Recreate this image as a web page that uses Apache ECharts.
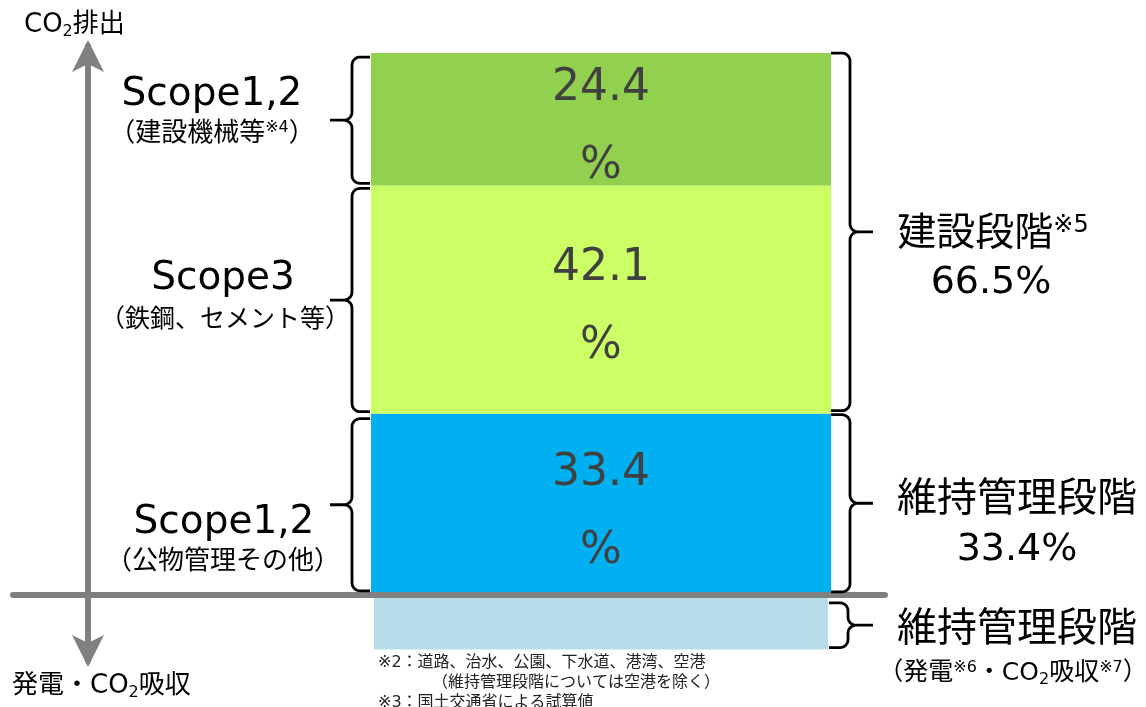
<!DOCTYPE html>
<html>
<head>
<meta charset="utf-8">
<script src="https://cdn.jsdelivr.net/npm/echarts@6/dist/echarts.min.js"></script>
<style>
html, body { margin: 0; padding: 0; background: #fff; }
#main { width: 1146px; height: 707px; }
</style>
</head>
<body>
<div id="main"></div>
<script>
// data (%, インフラ分野のCO2排出構成)
const categories = ['インフラ'];
const maintenanceScope12 = [33.4];   // Scope1,2（公物管理その他）
const constructionScope3 = [42.1];   // Scope3（鉄鋼、セメント等）
const constructionScope12 = [24.4];  // Scope1,2（建設機械等）
const maintenanceOffset = [-10.1];   // 維持管理段階（発電・CO2吸収）

const yMin = -12.2;
const yMax = 101.2;
const FONT = "'DejaVu Sans', 'Noto Sans CJK JP', sans-serif";

const chart = echarts.init(document.getElementById('main'));

const barLabel = {
    show: true,
    position: 'inside',
    formatter: '{c}\n%',
    fontSize: 44,
    lineHeight: 78,
    color: '#404040',
    fontFamily: FONT,
    offset: [0, 8]
};

chart.setOption({
    animation: false,
    grid: [
        { left: 371, right: 315, top: 46, bottom: 46 },
        { left: 13, right: 261, top: 46, bottom: 46 }
    ],
    xAxis: [
        { type: 'category', data: categories, gridIndex: 0, show: false },
        { type: 'category', data: categories, gridIndex: 0, show: false },
        {
            type: 'category', data: categories, gridIndex: 1, z: 10,
            axisLine: { onZero: true, lineStyle: { color: '#808080', width: 6 } },
            axisTick: { show: false },
            axisLabel: { show: false }
        }
    ],
    yAxis: [
        {
            type: 'value', gridIndex: 0, min: yMin, max: yMax,
            position: 'left', offset: 283,
            axisLine: {
                show: true,
                symbol: ['arrow', 'arrow'],
                symbolSize: [24, 32],
                symbolOffset: [-6, 6],
                lineStyle: { color: '#808080', width: 6 }
            },
            axisTick: { show: false },
            axisLabel: { show: false },
            splitLine: { show: false }
        },
        { type: 'value', gridIndex: 1, min: yMin, max: yMax, show: false }
    ],
    series: [
        {
            name: 'Scope1,2（公物管理その他）', type: 'bar', stack: 'emit',
            xAxisIndex: 0, yAxisIndex: 0, barWidth: 460,
            data: maintenanceScope12,
            itemStyle: { color: '#00B0F0' },
            label: barLabel
        },
        {
            name: 'Scope3（鉄鋼、セメント等）', type: 'bar', stack: 'emit',
            xAxisIndex: 0, yAxisIndex: 0, barWidth: 460,
            data: constructionScope3,
            itemStyle: { color: '#CCFF66' },
            label: barLabel
        },
        {
            name: 'Scope1,2（建設機械等）', type: 'bar', stack: 'emit',
            xAxisIndex: 0, yAxisIndex: 0, barWidth: 460,
            data: constructionScope12,
            itemStyle: { color: '#92D050' },
            label: barLabel
        },
        {
            name: '発電・CO2吸収', type: 'bar',
            xAxisIndex: 1, yAxisIndex: 0, barWidth: 454,
            data: maintenanceOffset,
            itemStyle: { color: '#B7DEE8' }
        }
    ]
});

// curly braces next to the bar segments
function brace(stemX, y1, y2, dir, hook, tip, r) {
    const ym = (y1 + y2) / 2;
    const pts = [];
    const P = (u, y) => pts.push([stemX + dir * u, y]);
    const N = 8;
    P(-hook, y1);
    for (let i = 0; i <= N; i++) { const a = i / N * Math.PI / 2; P(-r + r * Math.sin(a), y1 + r - r * Math.cos(a)); }
    for (let i = 0; i <= N; i++) { const a = i / N * Math.PI / 2; P(r - r * Math.cos(a), ym - r + r * Math.sin(a)); }
    P(tip, ym);
    for (let i = 0; i <= N; i++) { const a = i / N * Math.PI / 2; P(r - r * Math.sin(a), ym + r - r * Math.cos(a)); }
    for (let i = 0; i <= N; i++) { const a = i / N * Math.PI / 2; P(-r + r * Math.cos(a), y2 - r + r * Math.sin(a)); }
    P(-hook, y2);
    return {
        type: 'polyline', z: 20,
        shape: { points: pts },
        style: { stroke: '#000', lineWidth: 2.8, fill: 'none' }
    };
}

const rich = (size) => ({
    m: { fontSize: size, lineHeight: size + 6, fontFamily: FONT, fill: '#000' },
    s: { fontSize: Math.round(size * 0.62), lineHeight: Math.round(size * 0.7), padding: [0, 0, Math.round(size * 0.45), 0], fontFamily: FONT, fill: '#000' },
    b: { fontSize: Math.round(size * 0.62), lineHeight: Math.round(size * 0.7), padding: [Math.round(size * 0.5), 0, 0, 0], fontFamily: FONT, fill: '#000' }
});

function txt(x, y, text, size, align, color) {
    return {
        type: 'text', x: x, y: y, z: 20,
        style: {
            text: text, fontSize: size, fontFamily: FONT, fill: color || '#000',
            align: align || 'center', verticalAlign: 'middle', rich: rich(size)
        }
    };
}

const yPx = v => chart.convertToPixel({ yAxisIndex: 0 }, v);
const c1 = maintenanceScope12[0];
const c2 = c1 + constructionScope3[0];
const c3 = c2 + constructionScope12[0];
const constructionShare = (constructionScope3[0] + constructionScope12[0]).toFixed(1);
const maintenanceShare = maintenanceScope12[0].toFixed(1);

chart.setOption({
    graphic: [
        brace(352, yPx(c3) + 4, yPx(c2) - 2, -1, 18, 22, 8),
        brace(352, yPx(c2) + 3, yPx(c1) - 2, -1, 18, 22, 8),
        brace(352, yPx(c1) + 5, yPx(0) - 4, -1, 18, 22, 8),
        brace(850, yPx(c3), yPx(c1) - 3, 1, 19, 23, 8),
        brace(850, yPx(c1) + 1, yPx(0) - 3, 1, 19, 23, 8),
        brace(848, yPx(0) + 8, yPx(maintenanceOffset[0]) - 2, 1, 19, 25, 8),

        txt(24, 25, '{m|CO}{b|2}{m|排出}', 26, 'left'),
        txt(12, 686, '{m|発電・CO}{b|2}{m|吸収}', 26, 'left'),

        txt(212, 95, 'Scope1,2', 39),
        txt(212, 134, '{m|（建設機械等}{s|※4}{m|）}', 26),
        txt(223, 279, 'Scope3', 39),
        txt(225, 320, '（鉄鋼、セメント等）', 25),
        txt(224, 523, 'Scope1,2', 39),
        txt(223, 562, '（公物管理その他）', 26),

        txt(993, 235, '{m|建設段階}{s|※5}', 39),
        txt(991, 283, constructionShare + '%', 38),
        txt(1017, 501, '維持管理段階', 40),
        txt(1017, 550, maintenanceShare + '%', 38),
        txt(1017, 631, '維持管理段階', 40),
        txt(1013, 673, '{m|（発電}{s|※6}{m|・CO}{b|2}{m|吸収}{s|※7}{m|）}', 25),

        txt(378, 663, '※2：道路、治水、公園、下水道、港湾、空港', 16, 'left', '#222'),
        txt(432, 683, '（維持管理段階については空港を除く）', 16, 'left', '#222'),
        txt(378, 703, '※3：国土交通省による試算値', 16, 'left', '#222')
    ]
});
</script>
</body>
</html>
